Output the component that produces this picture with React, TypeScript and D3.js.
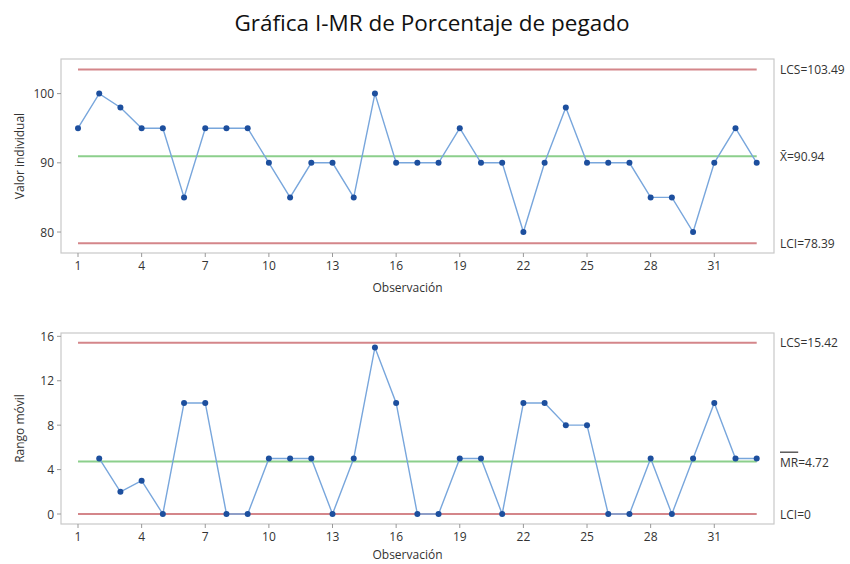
import React from "react";
import * as d3 from "d3";

// observations 1..33
const observations = d3.range(1, 34);
const individualValues = [
  95, 100, 98, 95, 95, 85, 95, 95, 95, 90, 85, 90, 90, 85, 100, 90, 90, 90, 95, 90, 90, 80, 90, 98, 90,
  90, 90, 85, 85, 80, 90, 95, 90,
];
// moving range starts at observation 2
const movingRange = [
  5, 2, 3, 0, 10, 10, 0, 0, 5, 5, 5, 0, 5, 15, 10, 0, 0, 5, 5, 0, 10, 10, 8, 8, 0, 0, 5, 0, 5, 10, 5, 5,
];
const xTicks = [1, 4, 7, 10, 13, 16, 19, 22, 25, 28, 31];
const iTicks = [80, 90, 100];
const mrTicks = [0, 4, 8, 12, 16];
const iLimits = { lcs: 103.49, center: 90.94, lci: 78.39 };
const mrLimits = { lcs: 15.42, center: 4.72, lci: 0 };

const W = 850;
const H = 564;
const font = "'Open Sans', 'Noto Sans', sans-serif";
const textColor = "#333";
const redLine = "#d4868a";
const greenLine = "#8ccf8c";
const blueLine = "#78a6dc";
const dotColor = "#1d4f9e";

const box = { left: 61, right: 774 };

const x = d3.scaleLinear().domain([1, 33]).range([78, 756.7]);

type PanelProps = {
  top: number;
  bottom: number;
  yDomain: [number, number];
  ticks: number[];
  points: { o: number; v: number }[];
  limits: { lcs: number; center: number; lci: number };
  yTitle: string;
  xTitleY: number;
  labels: { lcs: string; center: React.ReactNode; lci: string };
};

const Panel = ({ top, bottom, yDomain, ticks, points, limits, yTitle, xTitleY, labels }: PanelProps) => {
  const y = d3.scaleLinear().domain(yDomain).range([bottom, top]);
  const line = d3
    .line<{ o: number; v: number }>()
    .x((d) => x(d.o))
    .y((d) => y(d.v));
  const x0 = x(1);
  const x1 = x(33);
  return (
    <g>
      <rect
        x={box.left}
        y={top}
        width={box.right - box.left}
        height={bottom - top}
        fill="white"
        stroke="#c9c9c9"
        strokeWidth={1.2}
      />
      {ticks.map((t) => (
        <g key={t}>
          <line x1={box.left - 4} x2={box.left} y1={y(t)} y2={y(t)} stroke="#999" />
          <text
            x={box.left - 7}
            y={y(t)}
            textAnchor="end"
            dominantBaseline="central"
            fontSize={12}
            fill={textColor}
          >
            {t}
          </text>
        </g>
      ))}
      {xTicks.map((t) => (
        <g key={t}>
          <line x1={x(t)} x2={x(t)} y1={bottom} y2={bottom + 4} stroke="#999" />
          <text x={x(t)} y={bottom + 17} textAnchor="middle" fontSize={12} fill={textColor}>
            {t}
          </text>
        </g>
      ))}
      <text
        x={box.left + (box.right - box.left) / 2 - 10}
        y={xTitleY}
        textAnchor="middle"
        fontSize={12}
        fill={textColor}
      >
        Observación
      </text>
      <text
        transform={`translate(24,${(top + bottom) / 2}) rotate(-90)`}
        textAnchor="middle"
        fontSize={12}
        fill={textColor}
      >
        {yTitle}
      </text>
      <line x1={x0} x2={x1} y1={y(limits.lcs)} y2={y(limits.lcs)} stroke={redLine} strokeWidth={2} />
      <line x1={x0} x2={x1} y1={y(limits.lci)} y2={y(limits.lci)} stroke={redLine} strokeWidth={2} />
      <line
        x1={x0}
        x2={x1}
        y1={y(limits.center)}
        y2={y(limits.center)}
        stroke={greenLine}
        strokeWidth={2}
      />
      <path d={line(points) || ""} fill="none" stroke={blueLine} strokeWidth={1.4} />
      {points.map((p) => (
        <circle key={p.o} cx={x(p.o)} cy={y(p.v)} r={3} fill={dotColor} />
      ))}
      <text x={780} y={y(limits.lcs)} dominantBaseline="central" fontSize={12} fill={textColor}>
        {labels.lcs}
      </text>
      <text x={780} y={y(limits.center)} dominantBaseline="central" fontSize={12} fill={textColor}>
        {labels.center}
      </text>
      <text x={780} y={y(limits.lci)} dominantBaseline="central" fontSize={12} fill={textColor}>
        {labels.lci}
      </text>
    </g>
  );
};

const App = () => {
  const iPoints = observations.map((o, i) => ({ o, v: individualValues[i] }));
  const mrPoints = observations.slice(1).map((o, i) => ({ o, v: movingRange[i] }));
  return (
    <svg
      width={W}
      height={H}
      style={{ position: "absolute", left: 0, top: 0, fontFamily: font, background: "white" }}
    >
      <text x={432} y={31} textAnchor="middle" fontSize={22.5} fill="#111">
        Gráfica I-MR de Porcentaje de pegado
      </text>
      <Panel
        top={59}
        bottom={253}
        yDomain={[76.97, 105]}
        ticks={iTicks}
        points={iPoints}
        limits={iLimits}
        yTitle="Valor individual"
        xTitleY={292}
        labels={{
          lcs: "LCS=103.49",
          center: (
            <>
              <tspan>X̄</tspan>
              <tspan>=90.94</tspan>
            </>
          ),
          lci: "LCI=78.39",
        }}
      />
      <Panel
        top={333}
        bottom={524}
        yDomain={[-0.9, 16.3]}
        ticks={mrTicks}
        points={mrPoints}
        limits={mrLimits}
        yTitle="Rango móvil"
        xTitleY={559}
        labels={{
          lcs: "LCS=15.42",
          center: (
            <>
              <tspan textDecoration="overline">MR</tspan>
              <tspan>=4.72</tspan>
            </>
          ),
          lci: "LCI=0",
        }}
      />
    </svg>
  );
};

export default App;
